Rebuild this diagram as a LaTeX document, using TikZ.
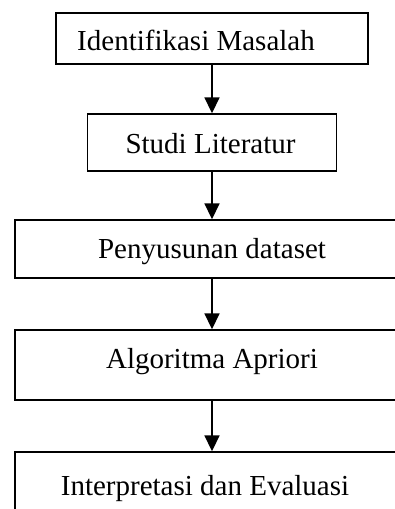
\documentclass[tikz,border=0pt]{standalone}
\usepackage{fontspec}
\setmainfont{Liberation Serif}
\usetikzlibrary{arrows.meta}
\begin{document}
\begin{tikzpicture}[x=1pt,y=-1pt,
  box/.style={draw,line width=1.4pt,inner sep=0pt},
  lbl/.style={anchor=base,inner sep=0pt,font=\fontsize{29}{34}\selectfont},
  link/.style={line width=1.8pt,-{Triangle[width=15pt,length=16pt]}}]
\useasboundingbox (0,0) rectangle (394,509);
% process boxes
\node[box,minimum width=312pt,minimum height=51pt] (b1) at (212,38.5) {};
\node[box,minimum width=249pt,minimum height=57pt] (b2) at (212,142.5) {};
\node[box,minimum width=394pt,minimum height=58pt] (b3) at (212,249) {};
\node[box,minimum width=394pt,minimum height=70pt] (b4) at (212,365) {};
\node[box,minimum width=394pt,minimum height=80pt] (b5) at (212,492) {};
% box captions
\node[lbl] (t1) at (196,50) {Identifikasi Masalah};
\node[lbl] (t2) at (210.5,153) {Studi Literatur};
\node[lbl] (t3) at (212,258) {Penyusunan dataset};
\node[lbl] (t4) at (212,368) {Algoritma Apriori};
\node[lbl] (t5) at (205,495) {Interpretasi dan Evaluasi};
% flow arrows
\draw[link] (b1) -- (b2);
\draw[link] (b2) -- (b3);
\draw[link] (b3) -- (b4);
\draw[link] (b4) -- (b5);
\end{tikzpicture}
\end{document}
